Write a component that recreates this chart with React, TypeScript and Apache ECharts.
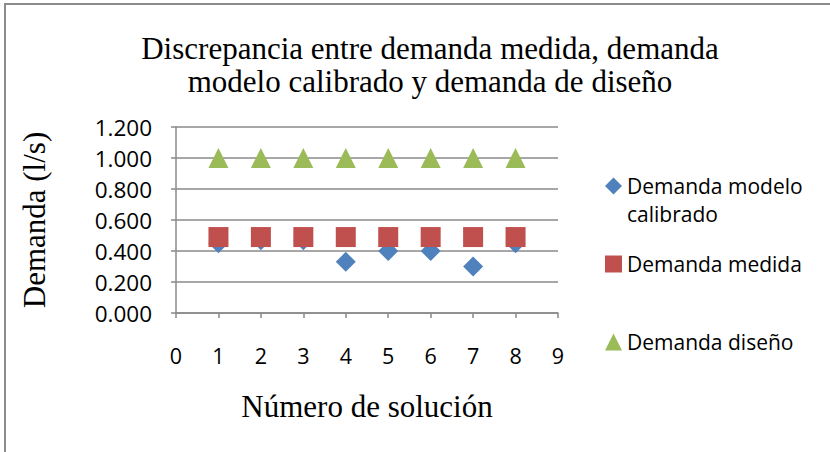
import React, { useEffect, useRef } from "react";
import * as echarts from "echarts";

const solutions = [1, 2, 3, 4, 5, 6, 7, 8];
const calibrated = [0.45, 0.47, 0.47, 0.33, 0.4, 0.4, 0.3, 0.45];
const measured = [0.49, 0.49, 0.49, 0.49, 0.49, 0.49, 0.49, 0.49];
const design = [1.0, 1.0, 1.0, 1.0, 1.0, 1.0, 1.0, 1.0];
const seriesNames = ["Demanda modelo calibrado", "Demanda medida", "Demanda diseño"];
const titleText = "Discrepancia entre demanda medida, demanda\nmodelo calibrado y demanda de diseño";
const xName = "Número de solución";
const yName = "Demanda (l/s)";

const serif = "'Liberation Serif', 'Times New Roman', serif";
const sans = "'Open Sans', 'Noto Sans', sans-serif";
const gridColor = "#8a8a8a";

export default function App() {
  const ref = useRef<HTMLDivElement>(null);
  useEffect(() => {
    if (!ref.current) return;
    const chart = echarts.init(ref.current, null, { renderer: "svg" });
    const pair = (arr: number[]) => solutions.map((s, i) => [s, arr[i]]);
    const legendText = { fontFamily: sans, fontSize: 21, color: "#000", lineHeight: 22 };
    chart.setOption({
      animation: false,
      backgroundColor: "#ffffff",
      title: {
        text: titleText,
        left: 425,
        top: 27,
        textAlign: "center",
        textStyle: { fontFamily: serif, fontSize: 31, fontWeight: "normal", color: "#000", lineHeight: 33 },
      },
      graphic: [
        {
          type: "rect",
          shape: { x: 5, y: 4, width: 840, height: 460 },
          style: { fill: "none", stroke: "#8c8c8c", lineWidth: 2 },
          silent: true,
        },
        {
          type: "text",
          left: 627,
          top: 203,
          style: { text: "calibrado", fontFamily: sans, fontSize: 21, lineHeight: 22, fill: "#000" },
        },
      ],
      grid: { left: 176, right: 272, top: 127, bottom: 139 },
      xAxis: {
        type: "value",
        min: 0,
        max: 9,
        interval: 1,
        name: xName,
        nameLocation: "middle",
        nameGap: 78,
        nameTextStyle: { fontFamily: serif, fontSize: 31, color: "#000" },
        axisLine: { onZero: false, lineStyle: { color: gridColor, width: 1.5 } },
        axisTick: { show: true, length: 5, lineStyle: { color: gridColor, width: 1.5 } },
        axisLabel: { margin: 31, fontFamily: sans, fontSize: 21.5, color: "#000" },
        splitLine: { show: false },
      },
      yAxis: {
        type: "value",
        min: 0,
        max: 1.2,
        interval: 0.2,
        name: yName,
        nameLocation: "middle",
        nameGap: 126,
        nameTextStyle: { fontFamily: serif, fontSize: 31, color: "#000" },
        axisLine: { show: true, lineStyle: { color: gridColor, width: 1.5 } },
        axisTick: { show: true, length: 5, lineStyle: { color: gridColor, width: 1.5 } },
        axisLabel: {
          margin: 24,
          fontFamily: sans,
          fontSize: 22.5,
          color: "#000",
          formatter: (v: number) => v.toFixed(3),
        },
        splitLine: { show: true, lineStyle: { color: gridColor, width: 1.5 } },
      },
      legend: [
        {
          data: [{ name: seriesNames[0], icon: "diamond" }],
          left: 605,
          top: 175,
          padding: 0,
          itemWidth: 17,
          itemHeight: 17,
          formatter: () => "Demanda modelo",
          textStyle: legendText,
        },
        {
          data: [{ name: seriesNames[1], icon: "rect" }],
          left: 605,
          top: 253,
          padding: 0,
          itemWidth: 17,
          itemHeight: 17,
          textStyle: legendText,
        },
        {
          data: [{ name: seriesNames[2], icon: "triangle" }],
          left: 605,
          top: 331,
          padding: 0,
          itemWidth: 17,
          itemHeight: 17,
          textStyle: legendText,
        },
      ],
      series: [
        {
          name: seriesNames[0],
          type: "scatter",
          symbol: "diamond",
          symbolSize: 20,
          itemStyle: { color: "#4F81BD", opacity: 1 },
          data: pair(calibrated),
        },
        {
          name: seriesNames[1],
          type: "scatter",
          symbol: "rect",
          symbolSize: 20,
          itemStyle: { color: "#C0504D", opacity: 1 },
          data: pair(measured),
        },
        {
          name: seriesNames[2],
          type: "scatter",
          symbol: "triangle",
          symbolSize: 20,
          itemStyle: { color: "#9BBB59", opacity: 1 },
          data: pair(design),
        },
      ],
    });
    return () => chart.dispose();
  }, []);
  return <div ref={ref} style={{ width: 830, height: 452, position: "absolute", left: 0, top: 0 }} />;
}
